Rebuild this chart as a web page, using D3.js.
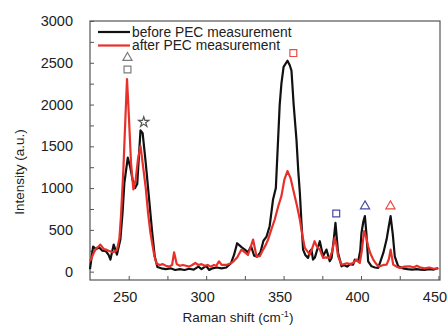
<!DOCTYPE html>
<html>
<head>
<meta charset="utf-8">
<script src="https://cdn.jsdelivr.net/npm/d3@7"></script>
<style>
  body { margin: 0; background: #fff; }
  svg { font-family: Arial, "Liberation Sans", sans-serif; }
</style>
</head>
<body>
<div id="chart"></div>
<script>
// Raman shift / intensity
const beforeShift = [225, 227, 229, 231, 233, 235.3, 237, 238.2, 240.3, 242.4, 244.6, 246, 247.2, 249.4, 251, 252.5, 254, 255.5, 257.6, 259, 261, 263, 265, 266.8, 268.5,
  271, 274, 277, 280, 283, 286, 289, 292, 295, 297, 300, 302, 304, 307, 310, 313, 316, 318, 320, 323, 325, 327, 329, 331, 333, 335, 337, 339, 341, 343.2, 345,
  346.5, 347.5, 348.6, 350, 352.5, 354, 355.1, 356.5, 358.3, 359.5, 360.5, 361.5, 362.6, 364, 365.8, 367, 368, 369, 370.2, 371.5, 373.4, 375.5, 377.7, 379.8, 381,
  382.5, 383.5, 385.2, 387.4, 389, 391, 393, 394.9, 396, 398.2, 399.5, 400.3, 401.5, 402.5, 403.5, 404.6, 406.8, 409, 411.1, 412.5, 414.4, 416.5, 418, 419.1,
  420.5, 421.8, 424, 427, 430, 433, 436, 438.2, 441, 444, 447, 449.8];
const beforeIntensity = [30, 300, 270, 288, 250, 244, 200, 144, 324, 204, 384, 700, 1064, 1364, 1250, 1100, 1000, 1050, 1690, 1656, 1300, 900, 500, 184, 56,
  40, 30, 40, 20, 30, 20, 35, 25, 60, 30, 70, 20, 40, 50, 40, 50, 100, 200, 340, 290, 264, 230, 304, 190, 180, 230, 370, 420, 544, 864, 1000,
  1600, 2000, 2250, 2450, 2524, 2470, 2404, 2000, 1584, 1200, 944, 600, 264, 200, 164, 244, 264, 144, 168, 250, 364, 184, 264, 124, 164,
  400, 584, 224, 64, 80, 60, 90, 84, 144, 124, 250, 464, 600, 664, 450, 124, 64, 50, 44, 120, 224, 384, 550, 664,
  450, 184, 64, 40, 30, 25, 30, 24, 20, 30, 25, 44];

const afterShift = [225, 227.4, 229, 230.5, 231.7, 234, 235.3, 237, 239.7, 241, 242.5, 244, 245, 246.5, 248, 248.9, 250, 251.5, 253, 254.5, 256, 257.6, 259, 261,
  262.5, 264, 265.5, 266.6, 268, 270, 272, 274, 276, 278, 279.3, 281, 283, 285, 287, 289, 291, 293, 295, 297, 299, 301, 303, 305, 306.5, 308.3, 310, 313, 316,
  318, 320, 322.8, 325, 327, 328.5, 330.3, 332.5, 334.6, 336.8, 338.5, 340, 342, 344.3, 346.5, 348.6, 350.5, 352.5, 354.5, 356.2, 358.5, 360.5, 362, 363.7,
  365.5, 366.9, 368.5, 370, 371.5, 373.4, 375.5, 377.5, 379.8, 381.5, 383, 384, 385.2, 387.4, 389, 391, 393, 394.9, 397, 399.2, 400.5, 402, 403.5, 404.6,
  406, 407.9, 409.5, 411.1, 413, 414.5, 416.5, 418, 419.1, 420.8, 423, 425.1, 428, 431.5, 434, 436, 438, 441, 444, 447, 450];
const afterIntensity = [124, 224, 280, 300, 324, 270, 264, 250, 232, 240, 264, 400, 664, 1200, 1900, 2304, 1900, 1300, 984, 1100, 1350, 1504, 1300, 1000,
  700, 468, 300, 184, 96, 80, 90, 70, 60, 80, 232, 90, 70, 80, 70, 60, 80, 104, 80, 90, 70, 80, 60, 80, 70, 124, 80, 80, 100,
  130, 170, 264, 230, 200, 280, 384, 184, 184, 264, 320, 384, 500, 624, 780, 904, 1100, 1204, 1120, 984, 800, 624, 450, 284,
  240, 204, 280, 364, 300, 264, 164, 170, 164, 250, 404, 330, 184, 84, 90, 100, 90, 104, 144, 104, 250, 484, 400, 304,
  220, 144, 100, 64, 70, 80, 84, 150, 264, 84, 60, 44, 60, 64, 50, 70, 52, 40, 50, 35, 40];

const seriesNames = ['before PEC measurement', 'after PEC measurement'];
const seriesColors = ['#111111', '#e8302a'];

// peak markers (position in data units)
const markerShift = [249.2, 249.2, 259.7, 356.3, 384, 402.6, 419];
const markerIntensity = [2560, 2420, 1790, 2616, 696, 784, 784];
const markerShape = ['triangle', 'square', 'star', 'square', 'square', 'triangle', 'triangle'];
const markerColor = ['#7d7d7d', '#7d7d7d', '#555555', '#e84a44', '#4a4aa8', '#4a4aa8', '#e84a44'];

const xTicks = [250, 300, 350, 400, 450];
const xMinor = [275, 325, 375, 425];
const yTicks = [0, 500, 1000, 1500, 2000, 2500, 3000];
const yMinor = [250, 750, 1250, 1750, 2250, 2750];

const width = 448, height = 327;
const margin = { top: 21, right: 8, bottom: 47, left: 90 };

const svg = d3.select('#chart').append('svg')
  .attr('width', width)
  .attr('height', height);

const x = d3.scaleLinear().domain([225, 451]).range([margin.left, width - margin.right]);
const y = d3.scaleLinear().domain([-100, 3000]).range([height - margin.bottom, margin.top]);

const axisColor = '#555';

// inward ticks, labels only on the major ones
svg.append('g')
  .attr('transform', `translate(0,${y.range()[0]})`)
  .call(d3.axisBottom(x).tickValues(xTicks.concat(xMinor)).tickSize(-4).tickPadding(12)
    .tickFormat(d => xTicks.includes(d) ? d : ''))
  .call(g => g.select('.domain').remove())
  .call(g => g.selectAll('line').attr('stroke', axisColor))
  .call(g => g.selectAll('text').attr('fill', '#222').attr('dx', -4).style('font-size', '14.5px'));

svg.append('g')
  .attr('transform', `translate(${x.range()[0]},0)`)
  .call(d3.axisLeft(y).tickValues(yTicks.concat(yMinor)).tickSize(-4).tickPadding(17)
    .tickFormat(d => yTicks.includes(d) ? d : ''))
  .call(g => g.select('.domain').remove())
  .call(g => g.selectAll('line').attr('stroke', axisColor))
  .call(g => g.selectAll('text').attr('fill', '#222').style('font-size', '14.5px'));

// frame
svg.append('rect')
  .attr('x', x.range()[0])
  .attr('y', y.range()[1])
  .attr('width', x.range()[1] - x.range()[0])
  .attr('height', y.range()[0] - y.range()[1])
  .attr('fill', 'none')
  .attr('stroke', axisColor)
  .attr('stroke-width', 1.2);

const line = d3.line()
  .x(d => x(d[0]))
  .y(d => y(d[1]));

const series = [
  d3.zip(beforeShift, beforeIntensity),
  d3.zip(afterShift, afterIntensity)
];

svg.append('g')
  .selectAll('path')
  .data(series)
  .join('path')
  .attr('d', line)
  .attr('fill', 'none')
  .attr('stroke', (d, i) => seriesColors[i])
  .attr('stroke-width', 2.2)
  .attr('stroke-linejoin', 'round');

// markers
const shapes = { triangle: d3.symbolTriangle2, square: d3.symbolSquare2, star: d3.symbolStar };
const sizes = { triangle: 60, square: 60, star: 32 };

svg.append('g')
  .selectAll('path')
  .data(markerShift)
  .join('path')
  .attr('transform', (d, i) => `translate(${x(d)},${y(markerIntensity[i])})`)
  .attr('d', (d, i) => d3.symbol(shapes[markerShape[i]], sizes[markerShape[i]])())
  .attr('fill', 'none')
  .attr('stroke', (d, i) => markerColor[i])
  .attr('stroke-width', 1.2);

// legend
const legend = svg.append('g');
seriesNames.forEach((name, i) => {
  const ly = 32 + i * 13.5;
  legend.append('line')
    .attr('x1', 98).attr('x2', 130)
    .attr('y1', ly).attr('y2', ly)
    .attr('stroke', seriesColors[i])
    .attr('stroke-width', 2.2);
  legend.append('text')
    .attr('x', 132)
    .attr('y', ly + 4.5)
    .attr('fill', '#222')
    .style('font-size', '13.8px')
    .text(name);
});

// axis titles
svg.append('text')
  .attr('x', 238)
  .attr('y', 322)
  .attr('text-anchor', 'middle')
  .attr('fill', '#222')
  .style('font-size', '13.5px')
  .html('Raman shift (cm<tspan dy="-5" font-size="9px">-1</tspan><tspan dy="5">)</tspan>');

svg.append('text')
  .attr('transform', 'translate(24,172) rotate(-90)')
  .attr('text-anchor', 'middle')
  .attr('fill', '#222')
  .style('font-size', '13.5px')
  .text('Intensity (a.u.)');
</script>
</body>
</html>
